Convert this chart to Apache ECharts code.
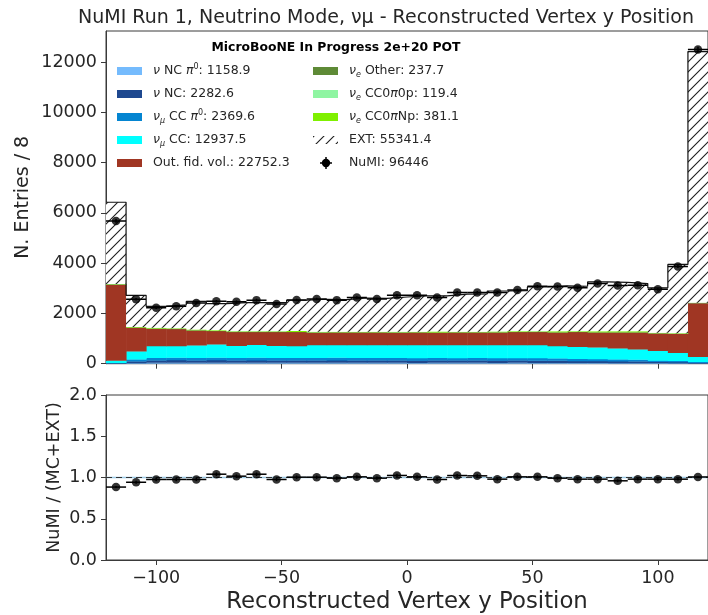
<!DOCTYPE html>
<html>
<head>
<meta charset="utf-8">
<script src="https://cdn.jsdelivr.net/npm/echarts@6/dist/echarts.min.js"></script>
<style>
  html, body { margin: 0; padding: 0; background: #fff; }
  #chart { width: 708px; height: 615px; }
</style>
</head>
<body>
<div id="chart"></div>
<script>
// Reconstructed vertex y, 30 bins of 8 cm from -120 to 120
const binEdges = [-120, -112, -104, -96, -88, -80, -72, -64, -56, -48, -40, -32, -24, -16, -8, 0,
                  8, 16, 24, 32, 40, 48, 56, 64, 72, 80, 88, 96, 104, 112, 120];

// Stacked MC components (bottom to top), entries per bin
const nuNCpi0  = [5, 30, 48, 50, 47, 49, 46, 48, 45, 47, 46, 48, 45, 47, 46, 44, 47, 45, 46, 44, 45, 43, 42, 38, 36, 34, 32, 26, 24, 14];
const nuNC     = [15, 70, 92, 95, 94, 96, 93, 95, 92, 94, 93, 95, 92, 94, 92, 90, 93, 91, 92, 90, 91, 88, 86, 75, 72, 70, 66, 52, 48, 30];
const numuCCpi0 = [20, 80, 100, 102, 100, 104, 99, 101, 98, 100, 99, 101, 98, 100, 98, 96, 99, 97, 98, 96, 97, 94, 92, 82, 78, 75, 70, 55, 50, 40];
const numuCC   = [90, 313, 464, 457, 491, 523, 478, 512, 481, 463, 506, 500, 509, 503, 508, 514, 505, 511, 508, 514, 511, 519, 484, 482, 467, 434, 405, 384, 316, 195];
const outFV    = [3036, 951, 692, 682, 601, 533, 552, 511, 551, 559, 505, 508, 506, 508, 505, 508, 496, 507, 507, 512, 519, 524, 548, 589, 599, 643, 682, 698, 755, 2138];
const nueOther = [2, 6, 9, 8, 9, 8, 9, 8, 9, 8, 9, 8, 9, 8, 9, 8, 9, 8, 9, 8, 9, 8, 9, 8, 9, 8, 8, 7, 6, 4];
const nueCC0pi0p = [1, 3, 4, 4, 4, 5, 4, 4, 4, 5, 4, 4, 4, 5, 4, 4, 5, 4, 4, 4, 5, 4, 4, 4, 5, 4, 4, 3, 3, 2];
const nueCC0piNp = [3, 8, 24, 10, 14, 12, 9, 11, 10, 24, 12, 10, 11, 9, 12, 10, 26, 11, 10, 12, 13, 10, 25, 12, 24, 22, 23, 9, 8, 5];
// Beam-off (EXT) on top of the stack
const extBkg   = [3253, 1259, 851, 932, 1120, 1064, 1139, 1143, 1149, 1225, 1291, 1276, 1340, 1322, 1380, 1424, 1420, 1495, 1505, 1613,
                  1620, 1766, 1805, 1792, 1965, 1950, 1899, 1786, 2740, 9992];
// Beam-on NuMI data
const numiData = [5680, 2563, 2229, 2284, 2420, 2490, 2468, 2530, 2380, 2535, 2575, 2530, 2635, 2575, 2720, 2720, 2635, 2835, 2835, 2835,
                  2933, 3080, 3070, 3020, 3190, 3110, 3125, 2960, 3870, 12500];

// Axis ticks
const yTicksTop = [0, 2000, 4000, 6000, 8000, 10000, 12000];
const yTicksRatio = [0, 0.5, 1.0, 1.5, 2.0];
const xTicks = [-100, -50, 0, 50, 100];

const FONT = 'DejaVu Sans';
const TXT = '#262626';
const AX = '#3a3a3a';

// diagonal hatch used for the EXT component
function makeHatch(bg) {
  const c = document.createElement('canvas');
  c.width = 10; c.height = 10;
  const g = c.getContext('2d');
  if (bg) { g.fillStyle = bg; g.fillRect(0, 0, 10, 10); }
  g.strokeStyle = '#1e1e1e';
  g.lineWidth = 1.1;
  g.beginPath();
  g.moveTo(-1, 11); g.lineTo(11, -1);
  g.moveTo(-1, 1); g.lineTo(1, -1);
  g.moveTo(9, 11); g.lineTo(11, 9);
  g.stroke();
  return c;
}
const hatchFill = { image: makeHatch('#ffffff'), repeat: 'repeat' };
const hatchIcon = { image: makeHatch(null), repeat: 'repeat' };

const components = [
  { name: 'nuNCpi0', values: nuNCpi0, color: '#75bbfd' },
  { name: 'nuNC', values: nuNC, color: '#1e488f' },
  { name: 'numuCCpi0', values: numuCCpi0, color: '#0485d1' },
  { name: 'numuCC', values: numuCC, color: '#00ffff' },
  { name: 'outFV', values: outFV, color: '#a03623' },
  { name: 'nueOther', values: nueOther, color: '#5e8a36' },
  { name: 'nueCC0pi0p', values: nueCC0pi0p, color: '#8ff5a2' },
  { name: 'nueCC0piNp', values: nueCC0piNp, color: '#7ff000' },
  { name: 'ext', values: extBkg, color: hatchFill }
];

const nBins = binEdges.length - 1;
const series = [];
let base = new Array(nBins).fill(0);

components.forEach(comp => {
  const data = [];
  const next = base.slice();
  for (let i = 0; i < nBins; i++) {
    next[i] = base[i] + comp.values[i];
    data.push([binEdges[i], binEdges[i + 1], base[i], next[i]]);
  }
  base = next;
  const fill = comp.color;
  const isHatch = typeof fill !== 'string';
  series.push({
    type: 'custom', name: comp.name, xAxisIndex: 0, yAxisIndex: 0, clip: true, silent: true,
    encode: { x: [0, 1], y: [2, 3] },
    data: data,
    renderItem: function (params, api) {
      const a = api.coord([api.value(0), api.value(3)]);
      const b = api.coord([api.value(1), api.value(2)]);
      return {
        type: 'rect',
        shape: { x: a[0], y: a[1], width: b[0] - a[0] + (isHatch ? 0 : 0.5), height: b[1] - a[1] + (isHatch ? 0 : 0.3) },
        style: { fill: fill }
      };
    }
  });
});
const totalPred = base;

// outline of the total prediction
const stepPts = [];
for (let i = 0; i < nBins; i++) {
  stepPts.push([binEdges[i], totalPred[i]]);
  stepPts.push([binEdges[i + 1], totalPred[i]]);
}
series.push({
  type: 'line', xAxisIndex: 0, yAxisIndex: 0, data: stepPts, symbol: 'none', silent: true,
  lineStyle: { color: '#111', width: 1.2 }, z: 5
});

// data points with error bars
function pointsWithBars(xIdx, yIdx, vals, errs) {
  const bars = [];
  const pts = [];
  for (let i = 0; i < nBins; i++) {
    const xc = (binEdges[i] + binEdges[i + 1]) / 2;
    bars.push([binEdges[i], binEdges[i + 1], vals[i], errs[i], xc]);
    pts.push([xc, vals[i]]);
  }
  series.push({
    type: 'custom', xAxisIndex: xIdx, yAxisIndex: yIdx, clip: true, silent: true, z: 6,
    encode: { x: [0, 1], y: 2 },
    data: bars,
    renderItem: function (params, api) {
      const l = api.coord([api.value(0), api.value(2)]);
      const r = api.coord([api.value(1), api.value(2)]);
      const t = api.coord([api.value(4), api.value(2) + api.value(3)]);
      const b = api.coord([api.value(4), api.value(2) - api.value(3)]);
      return {
        type: 'group', children: [
          { type: 'line', shape: { x1: l[0], y1: l[1], x2: r[0], y2: r[1] }, style: { stroke: '#000', lineWidth: 1.5 } },
          { type: 'line', shape: { x1: t[0], y1: t[1], x2: b[0], y2: b[1] }, style: { stroke: '#000', lineWidth: 1.5 } }
        ]
      };
    }
  });
  series.push({
    type: 'scatter', xAxisIndex: xIdx, yAxisIndex: yIdx, data: pts, symbol: 'circle', symbolSize: 8.5,
    itemStyle: { color: '#000' }, silent: true, z: 7
  });
}
pointsWithBars(0, 0, numiData, numiData.map(v => Math.sqrt(v)));

// data / (MC + EXT)
const ratio = numiData.map((v, i) => v / totalPred[i]);
const ratioErr = numiData.map((v, i) => Math.sqrt(v) / totalPred[i]);
series.push({
  type: 'line', xAxisIndex: 1, yAxisIndex: 1, data: [[-120, 1], [120, 1]], symbol: 'none', silent: true,
  lineStyle: { color: '#9ccbe8', width: 1.6 }, z: 3
});
series.push({
  type: 'line', xAxisIndex: 1, yAxisIndex: 1, data: [[-120, 1], [120, 1]], symbol: 'none', silent: true,
  lineStyle: { color: '#333', width: 1.2, type: [6, 4] }, z: 4
});
pointsWithBars(1, 1, ratio, ratioErr);

const minus = v => String(v).replace('-', '\u2212');

const xAxisCommon = {
  type: 'value', min: -120, max: 120,
  axisLine: { show: true, onZero: false, lineStyle: { color: AX, width: 1 } },
  axisTick: { show: true, customValues: xTicks, length: 5, lineStyle: { color: AX } },
  splitLine: { show: false }
};

const legendRich = {
  g: { fontFamily: FONT, fontSize: 12.5, fontStyle: 'italic', color: TXT },
  sup: { fontFamily: FONT, fontSize: 8, color: TXT, verticalAlign: 'top', lineHeight: 16 },
  sub: { fontFamily: FONT, fontSize: 8, fontStyle: 'italic', color: TXT, verticalAlign: 'bottom', lineHeight: 16 }
};

const legendLeft = [
  { color: '#75bbfd', text: '{g|ν} NC {g|π}{sup|0}: 1158.9' },
  { color: '#1e488f', text: '{g|ν} NC: 2282.6' },
  { color: '#0485d1', text: '{g|ν}{sub|μ} CC {g|π}{sup|0}: 2369.6' },
  { color: '#00ffff', text: '{g|ν}{sub|μ} CC: 12937.5' },
  { color: '#a03623', text: 'Out. fid. vol.: 22752.3' }
];
const legendRight = [
  { color: '#5e8a36', text: '{g|ν}{sub|e} Other: 237.7' },
  { color: '#8ff5a2', text: '{g|ν}{sub|e} CC0{g|π}0p: 119.4' },
  { color: '#7ff000', text: '{g|ν}{sub|e} CC0{g|π}Np: 381.1' },
  { color: hatchIcon, text: 'EXT: 55341.4' },
  { color: null, text: 'NuMI: 96446' }
];

const graphics = [
  { type: 'text', x: 386, y: 18, style: { text: 'NuMI Run 1, Neutrino Mode, νμ - Reconstructed Vertex y Position',
      font: '19px "DejaVu Sans"', fill: TXT, align: 'center', verticalAlign: 'middle' } },
  { type: 'text', x: 336, y: 48, style: { text: 'MicroBooNE In Progress 2e+20 POT',
      font: 'bold 12.4px "DejaVu Sans"', fill: '#000', align: 'center', verticalAlign: 'middle' } }
];
function addLegendColumn(items, xPatch, xText) {
  items.forEach((it, k) => {
    const yc = 71 + k * 23;
    if (it.color === null) {
      graphics.push({ type: 'line', shape: { x1: xPatch + 7, y1: yc, x2: xPatch + 19, y2: yc }, style: { stroke: '#000', lineWidth: 1.5 } });
      graphics.push({ type: 'line', shape: { x1: xPatch + 13, y1: yc - 6, x2: xPatch + 13, y2: yc + 6 }, style: { stroke: '#000', lineWidth: 1.5 } });
      graphics.push({ type: 'circle', shape: { cx: xPatch + 13, cy: yc, r: 4.2 }, style: { fill: '#000' } });
    } else {
      graphics.push({ type: 'rect', shape: { x: xPatch, y: yc - 4, width: 25, height: 8 }, style: { fill: it.color } });
    }
    graphics.push({ type: 'text', x: xText, y: yc, style: { text: it.text, rich: legendRich,
      fontFamily: FONT, fontSize: 12.5, fill: TXT, verticalAlign: 'middle', align: 'left', lineHeight: 16 } });
  });
}
addLegendColumn(legendLeft, 117, 153);
addLegendColumn(legendRight, 313, 349);

const chart = echarts.init(document.getElementById('chart'), null, { renderer: 'canvas' });
chart.setOption({
  animation: false,
  backgroundColor: '#ffffff',
  grid: [
    { left: 106, top: 31, width: 605, height: 332.7, show: true, borderColor: AX, borderWidth: 1, backgroundColor: 'transparent' },
    { left: 106, top: 395, width: 605, height: 165.7, show: true, borderColor: AX, borderWidth: 1, backgroundColor: 'transparent' }
  ],
  xAxis: [
    Object.assign({}, xAxisCommon, { gridIndex: 0, axisLabel: { show: false } }),
    Object.assign({}, xAxisCommon, {
      gridIndex: 1,
      axisLabel: { show: true, customValues: xTicks, formatter: minus, fontFamily: FONT, fontSize: 17.5, color: TXT, margin: 9 },
      name: 'Reconstructed Vertex y Position', nameLocation: 'middle', nameGap: 31, nameMoveOverlap: false,
      nameTextStyle: { fontFamily: FONT, fontSize: 22.8, color: TXT }
    })
  ],
  yAxis: [
    {
      type: 'value', gridIndex: 0, min: 0, max: 13240,
      axisLine: { show: true, onZero: false, lineStyle: { color: AX } },
      axisTick: { show: true, customValues: yTicksTop, length: 5, lineStyle: { color: AX } },
      axisLabel: { show: true, customValues: yTicksTop, formatter: v => String(v), fontFamily: FONT, fontSize: 17.5, color: TXT, margin: 9 },
      splitLine: { show: false },
      name: 'N. Entries / 8', nameLocation: 'middle', nameGap: 73, nameMoveOverlap: false,
      nameTextStyle: { fontFamily: FONT, fontSize: 19, color: TXT }
    },
    {
      type: 'value', gridIndex: 1, min: 0, max: 2,
      axisLine: { show: true, onZero: false, lineStyle: { color: AX } },
      axisTick: { show: true, customValues: yTicksRatio, length: 5, lineStyle: { color: AX } },
      axisLabel: { show: true, customValues: yTicksRatio, formatter: v => v.toFixed(1), fontFamily: FONT, fontSize: 17.5, color: TXT, margin: 9 },
      splitLine: { show: false },
      name: 'NuMI / (MC+EXT)', nameLocation: 'middle', nameGap: 43, nameMoveOverlap: false,
      nameTextStyle: { fontFamily: FONT, fontSize: 17.5, color: TXT }
    }
  ],
  graphic: graphics,
  series: series
});
</script>
</body>
</html>
